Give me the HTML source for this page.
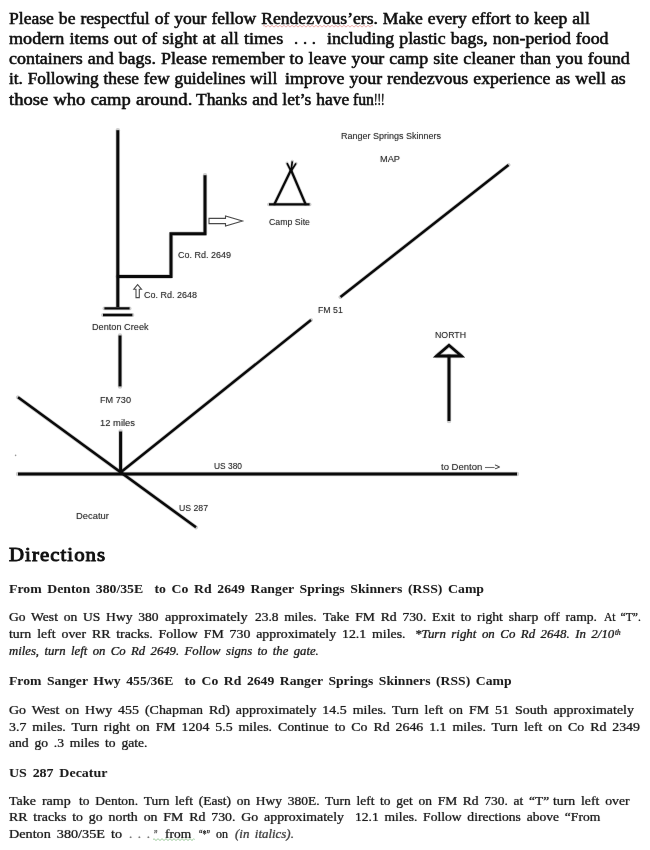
<!DOCTYPE html>
<html lang="en"><head><meta charset="utf-8"><title>Ranger Springs Skinners - Directions</title>
<style>
html,body{margin:0;padding:0;background:#fff;}
body{width:650px;height:850px;position:relative;overflow:hidden;}
#pg{position:absolute;left:0;top:0;width:650px;height:850px;overflow:hidden;filter:blur(0.4px);}
.t{position:absolute;white-space:pre;margin:0;padding:0;line-height:24px;height:24px;transform-origin:0 0;}
.p{display:inline-block;width:0;height:0;}
svg{position:absolute;left:0;top:0;}
</style></head><body><div id="pg">
<svg width="650" height="850" viewBox="0 0 650 850">
<g fill="none" stroke="#000" stroke-opacity="0.2" stroke-linecap="round" stroke-linejoin="round">
<path d="M117.8 130.2V307" stroke-width="4.5"/>
<path d="M117.8 276.6H171V233.7H205V175.3" stroke-width="4.5"/>
<path d="M104.4 308.4H129.6M103 315H132.4" stroke-width="3.9"/>
<path d="M120 335.5V386.4" stroke-width="4.5"/>
<path d="M120.6 431.5V473" stroke-width="4.5"/>
<path d="M18 397.3L196 527.3" stroke-width="4.1"/>
<path d="M120.5 472.5L311 320" stroke-width="4"/>
<path d="M340.5 297L508.5 165" stroke-width="4"/>
<path d="M18 474H517" stroke-width="4.4"/>
<path d="M449 356V421" stroke-width="4.5"/>
<path d="M449 345.3L436.5 356H461.5Z" stroke-width="4.3"/>
<path d="M274.5 204L291 170L305.5 204" stroke-width="3.7"/>
<path d="M269 204.4H309.6" stroke-width="3.7"/>
<path d="M291.2 171.5L287 163.2M291 171.5L292.3 161.3M290.8 171.5L296 163.4" stroke-width="3.2"/>
</g>
<g fill="none" stroke="#0a0a0a" stroke-linecap="butt" stroke-linejoin="miter">
<path d="M117.8 130.2V307" stroke-width="3"/>
<path d="M117.8 276.6H171V233.7H205V175.3" stroke-width="3"/>
<path d="M104.4 308.4H129.6M103 315H132.4" stroke-width="2.4"/>
<path d="M120 335.5V386.4" stroke-width="3"/>
<path d="M120.6 431.5V473" stroke-width="3"/>
<path d="M18 397.3L196 527.3" stroke-width="2.6"/>
<path d="M120.5 472.5L311 320" stroke-width="2.5"/>
<path d="M340.5 297L508.5 165" stroke-width="2.5"/>
<path d="M18 474H517" stroke-width="2.9"/>
<path d="M449 356V421" stroke-width="3"/>
<path d="M449 345.3L436.5 356H461.5Z" stroke-width="2.8"/>
<path d="M274.5 204L291 170L305.5 204" stroke-width="2.2"/>
<path d="M269 204.4H309.6" stroke-width="2.2"/>
<path d="M291.2 171.5L287 163.2M291 171.5L292.3 161.3M290.8 171.5L296 163.4" stroke-width="1.7"/>
</g>
<g fill="#fff" stroke="#4a4a4a" stroke-width="1.1">
<path d="M209 218.4H225.5V216L242.5 221L225.5 226V223.6H209Z"/>
<path d="M137.6 284.6L133.8 289.2H136V297.6H139.3V289.2H141.5Z"/>
</g>
<circle cx="15.6" cy="455.4" r="0.8" fill="#999"/>
<path d="M263 26.2Q264 24.4 265 26.2Q266 28 267 26.2Q268 24.4 269 26.2Q270 28 271 26.2Q272 24.4 273 26.2Q274 28 275 26.2Q276 24.4 277 26.2Q278 28 279 26.2Q280 24.4 281 26.2Q282 28 283 26.2Q284 24.4 285 26.2Q286 28 287 26.2Q288 24.4 289 26.2Q290 28 291 26.2Q292 24.4 293 26.2Q294 28 295 26.2Q296 24.4 297 26.2Q298 28 299 26.2Q300 24.4 301 26.2Q302 28 303 26.2Q304 24.4 305 26.2Q306 28 307 26.2Q308 24.4 309 26.2Q310 28 311 26.2Q312 24.4 313 26.2Q314 28 315 26.2Q316 24.4 317 26.2Q318 28 319 26.2Q320 24.4 321 26.2Q322 28 323 26.2Q324 24.4 325 26.2Q326 28 327 26.2Q328 24.4 329 26.2Q330 28 331 26.2Q332 24.4 333 26.2Q334 28 335 26.2Q336 24.4 337 26.2Q338 28 339 26.2Q340 24.4 341 26.2Q342 28 343 26.2Q344 24.4 345 26.2Q346 28 347 26.2Q348 24.4 349 26.2Q350 28 351 26.2Q352 24.4 353 26.2Q354 28 355 26.2Q356 24.4 357 26.2Q358 28 359 26.2Q360 24.4 361 26.2Q362 28 363 26.2Q364 24.4 365 26.2Q366 28 367 26.2Q368 24.4 369 26.2Q370 28 371 26.2Q372 24.4 373 26.2" fill="none" stroke="#d9534f" stroke-width="0.6" opacity="0.8"/>
<path d="M153 839.6Q154 837.8 155 839.6Q156 841.4 157 839.6Q158 837.8 159 839.6Q160 841.4 161 839.6Q162 837.8 163 839.6Q164 841.4 165 839.6Q166 837.8 167 839.6Q168 841.4 169 839.6Q170 837.8 171 839.6Q172 841.4 173 839.6Q174 837.8 175 839.6Q176 841.4 177 839.6Q178 837.8 179 839.6Q180 841.4 181 839.6Q182 837.8 183 839.6Q184 841.4 185 839.6Q186 837.8 187 839.6Q188 841.4 189 839.6Q190 837.8 191 839.6Q192 841.4 193 839.6Q193.75 837.8 194.5 839.6" fill="none" stroke="#3f9b3f" stroke-width="0.6" opacity="0.85"/>
</svg>
<div class="t" id="t0" style='left:8.8px;top:7.00px;font:16.2px "Liberation Serif", serif;color:#111;line-height:24px;transform:scaleX(1.0861);word-spacing:0.5px;-webkit-text-stroke:0.4px #111;text-shadow:0 0 1px rgba(0,0,0,.6);'>Please be respectful of your fellow Rendezvous’ers. Make every effort to keep all</div>
<div class="t" id="t1" style='left:8.8px;top:27.00px;font:16.2px "Liberation Serif", serif;color:#111;line-height:24px;transform:scaleX(1.1195);word-spacing:0.5px;-webkit-text-stroke:0.4px #111;text-shadow:0 0 1px rgba(0,0,0,.6);'>modern items out of sight at all times</div>
<div class="t" id="t2" style='left:294px;top:27.00px;font:16.2px "Liberation Serif", serif;color:#111;line-height:24px;transform:scaleX(1.0361);word-spacing:0.5px;-webkit-text-stroke:0.4px #111;text-shadow:0 0 1px rgba(0,0,0,.6);'>. . .</div>
<div class="t" id="t3" style='left:326.5px;top:27.00px;font:16.2px "Liberation Serif", serif;color:#111;line-height:24px;transform:scaleX(1.0995);word-spacing:0.5px;-webkit-text-stroke:0.4px #111;text-shadow:0 0 1px rgba(0,0,0,.6);'>including plastic bags, non-period food</div>
<div class="t" id="t4" style='left:8.8px;top:47.30px;font:16.2px "Liberation Serif", serif;color:#111;line-height:24px;transform:scaleX(1.1078);word-spacing:0.5px;-webkit-text-stroke:0.4px #111;text-shadow:0 0 1px rgba(0,0,0,.6);'>containers and bags. Please remember to leave your camp site cleaner than you found</div>
<div class="t" id="t5" style='left:8.8px;top:67.00px;font:16.2px "Liberation Serif", serif;color:#111;line-height:24px;transform:scaleX(1.0660);word-spacing:0.5px;-webkit-text-stroke:0.4px #111;text-shadow:0 0 1px rgba(0,0,0,.6);'>it. Following these few guidelines will</div>
<div class="t" id="t6" style='left:285px;top:67.00px;font:16.2px "Liberation Serif", serif;color:#111;line-height:24px;transform:scaleX(1.1010);word-spacing:0.5px;-webkit-text-stroke:0.4px #111;text-shadow:0 0 1px rgba(0,0,0,.6);'>improve your rendezvous experience as well as</div>
<div class="t" id="t7" style='left:8.8px;top:88.00px;font:16.2px "Liberation Serif", serif;color:#111;line-height:24px;transform:scaleX(1.1474);word-spacing:0.5px;-webkit-text-stroke:0.4px #111;text-shadow:0 0 1px rgba(0,0,0,.6);'>those who camp around.</div>
<div class="t" id="t8" style='left:195.8px;top:88.00px;font:16.2px "Liberation Serif", serif;color:#111;line-height:24px;transform:scaleX(1.0773);word-spacing:0.5px;-webkit-text-stroke:0.4px #111;text-shadow:0 0 1px rgba(0,0,0,.6);'>Thanks and let’s have</div>
<div class="t" id="t9" style='left:352.6px;top:88.00px;font:16.2px "Liberation Serif", serif;color:#111;line-height:24px;transform:scaleX(0.9732);word-spacing:0.5px;-webkit-text-stroke:0.4px #111;text-shadow:0 0 1px rgba(0,0,0,.6);'>fun</div>
<div class="t" id="t10" style='left:374.2px;top:88.00px;font:16.2px "Liberation Serif", serif;color:#111;line-height:24px;transform:scaleX(0.6431);word-spacing:0.5px;-webkit-text-stroke:0.4px #111;text-shadow:0 0 1px rgba(0,0,0,.6);'>!!!</div>
<div class="t" id="t11" style='left:9px;top:543.00px;font:18px "Liberation Serif", serif;color:#111;line-height:24px;letter-spacing:0.900px;transform:scaleX(1.1579);-webkit-text-stroke:0.85px #111;text-shadow:0 0 1px rgba(0,0,0,.5);'>Directions</div>
<div class="t" id="t12" style='left:9px;top:577.00px;font:bold 12.4px "Liberation Serif", serif;color:#1e1e1e;line-height:24px;transform:scaleX(1.1107);word-spacing:2px;text-shadow:0 0 1px rgba(0,0,0,.15);'>From Denton 380/35E  to Co Rd 2649 Ranger Springs Skinners (RSS) Camp</div>
<div class="t" id="t13" style='left:9px;top:605.20px;font:12.6px "Liberation Serif", serif;color:#1e1e1e;line-height:24px;transform:scaleX(1.0775);word-spacing:2.2px;-webkit-text-stroke:0.2px #1e1e1e;text-shadow:0 0 1px rgba(0,0,0,.4);'>Go West on US Hwy 380</div>
<div class="t" id="t14" style='left:164.8px;top:605.20px;font:12.6px "Liberation Serif", serif;color:#1e1e1e;line-height:24px;transform:scaleX(1.1368);word-spacing:2.2px;-webkit-text-stroke:0.2px #1e1e1e;text-shadow:0 0 1px rgba(0,0,0,.4);'>approximately</div>
<div class="t" id="t15" style='left:254.8px;top:605.20px;font:12.6px "Liberation Serif", serif;color:#1e1e1e;line-height:24px;transform:scaleX(1.0652);word-spacing:2.2px;-webkit-text-stroke:0.2px #1e1e1e;text-shadow:0 0 1px rgba(0,0,0,.4);'>23.8 miles.</div>
<div class="t" id="t16" style='left:322.5px;top:605.20px;font:12.6px "Liberation Serif", serif;color:#1e1e1e;line-height:24px;transform:scaleX(1.0843);word-spacing:2.2px;-webkit-text-stroke:0.2px #1e1e1e;text-shadow:0 0 1px rgba(0,0,0,.4);'>Take FM Rd 730. Exit to right sharp off ramp.</div>
<div class="t" id="t17" style='left:603.8px;top:605.20px;font:12.6px "Liberation Serif", serif;color:#1e1e1e;line-height:24px;transform:scaleX(0.9207);word-spacing:2.2px;-webkit-text-stroke:0.2px #1e1e1e;text-shadow:0 0 1px rgba(0,0,0,.4);'>At “T”.</div>
<div class="t" id="t18" style='left:9px;top:622.00px;font:12.6px "Liberation Serif", serif;color:#1e1e1e;line-height:24px;transform:scaleX(1.0985);word-spacing:2.2px;-webkit-text-stroke:0.2px #1e1e1e;text-shadow:0 0 1px rgba(0,0,0,.4);'>turn left over RR tracks. Follow FM 730 approximately 12.1 miles.</div>
<div class="t" id="t19" style='left:415px;top:622.00px;font:italic 12.6px "Liberation Serif", serif;color:#1e1e1e;line-height:24px;transform:scaleX(1.0245);word-spacing:2.2px;-webkit-text-stroke:0.2px #1e1e1e;text-shadow:0 0 1px rgba(0,0,0,.4);'>*Turn right on Co Rd 2648. In 2/10</div>
<div class="t" id="t20" style='left:615px;top:620.60px;font:italic 7.6px "Liberation Serif", serif;color:#1e1e1e;line-height:24px;transform:scaleX(0.9456);-webkit-text-stroke:0.2px #1e1e1e;text-shadow:0 0 1px rgba(0,0,0,.4);'>th</div>
<div class="t" id="t21" style='left:9px;top:639.00px;font:italic 12.6px "Liberation Serif", serif;color:#1e1e1e;line-height:24px;transform:scaleX(1.0096);word-spacing:2.2px;-webkit-text-stroke:0.2px #1e1e1e;text-shadow:0 0 1px rgba(0,0,0,.4);'>miles, turn left on Co Rd 2649. Follow signs to the gate.</div>
<div class="t" id="t22" style='left:9px;top:669.00px;font:bold 12.4px "Liberation Serif", serif;color:#1e1e1e;line-height:24px;transform:scaleX(1.1021);word-spacing:2px;text-shadow:0 0 1px rgba(0,0,0,.15);'>From Sanger Hwy 455/36E  to Co Rd 2649 Ranger Springs Skinners (RSS) Camp</div>
<div class="t" id="t23" style='left:9px;top:698.00px;font:12.6px "Liberation Serif", serif;color:#1e1e1e;line-height:24px;transform:scaleX(1.1076);word-spacing:2.2px;-webkit-text-stroke:0.2px #1e1e1e;text-shadow:0 0 1px rgba(0,0,0,.4);'>Go West on Hwy 455 (Chapman Rd) approximately 14.5 miles. Turn left on FM 51 South approximately</div>
<div class="t" id="t24" style='left:9px;top:714.50px;font:12.6px "Liberation Serif", serif;color:#1e1e1e;line-height:24px;transform:scaleX(1.1017);word-spacing:2.2px;-webkit-text-stroke:0.2px #1e1e1e;text-shadow:0 0 1px rgba(0,0,0,.4);'>3.7 miles. Turn right on FM 1204 5.5 miles. Continue to Co Rd 2646 1.1 miles. Turn left on Co Rd 2349</div>
<div class="t" id="t25" style='left:9px;top:731.00px;font:12.6px "Liberation Serif", serif;color:#1e1e1e;line-height:24px;transform:scaleX(1.0806);word-spacing:2.2px;-webkit-text-stroke:0.2px #1e1e1e;text-shadow:0 0 1px rgba(0,0,0,.4);'>and go .3 miles to gate.</div>
<div class="t" id="t26" style='left:9px;top:760.50px;font:bold 12.4px "Liberation Serif", serif;color:#1e1e1e;line-height:24px;transform:scaleX(1.1285);word-spacing:2px;text-shadow:0 0 1px rgba(0,0,0,.15);'>US 287 Decatur</div>
<div class="t" id="t27" style='left:9px;top:788.50px;font:12.6px "Liberation Serif", serif;color:#1e1e1e;line-height:24px;transform:scaleX(1.1114);word-spacing:2.2px;-webkit-text-stroke:0.2px #1e1e1e;text-shadow:0 0 1px rgba(0,0,0,.4);'>Take ramp</div>
<div class="t" id="t28" style='left:79px;top:788.50px;font:12.6px "Liberation Serif", serif;color:#1e1e1e;line-height:24px;transform:scaleX(1.0694);word-spacing:2.2px;-webkit-text-stroke:0.2px #1e1e1e;text-shadow:0 0 1px rgba(0,0,0,.4);'>to Denton. Turn left (East) on Hwy 380E. Turn left to get on FM Rd 730. at “T”</div>
<div class="t" id="t29" style='left:552.7px;top:788.50px;font:12.6px "Liberation Serif", serif;color:#1e1e1e;line-height:24px;transform:scaleX(1.0933);word-spacing:2.2px;-webkit-text-stroke:0.2px #1e1e1e;text-shadow:0 0 1px rgba(0,0,0,.4);'>turn left over</div>
<div class="t" id="t30" style='left:9px;top:805.00px;font:12.6px "Liberation Serif", serif;color:#1e1e1e;line-height:24px;transform:scaleX(1.0984);word-spacing:2.2px;-webkit-text-stroke:0.2px #1e1e1e;text-shadow:0 0 1px rgba(0,0,0,.4);'>RR tracks to go north on FM Rd 730. Go approximately</div>
<div class="t" id="t31" style='left:355px;top:805.00px;font:12.6px "Liberation Serif", serif;color:#1e1e1e;line-height:24px;transform:scaleX(1.0781);word-spacing:2.2px;-webkit-text-stroke:0.2px #1e1e1e;text-shadow:0 0 1px rgba(0,0,0,.4);'>12.1 miles. Follow directions above “From</div>
<div class="t" id="t32" style='left:9px;top:821.50px;font:12.6px "Liberation Serif", serif;color:#1e1e1e;line-height:24px;transform:scaleX(1.1272);word-spacing:2.2px;-webkit-text-stroke:0.2px #1e1e1e;text-shadow:0 0 1px rgba(0,0,0,.4);'>Denton 380/35E to</div>
<div class="t" id="t33" style='left:129px;top:821.50px;font:12.6px "Liberation Serif", serif;color:#777;line-height:24px;transform:scaleX(1.0419);word-spacing:2.2px;-webkit-text-stroke:0.2px #777;text-shadow:0 0 1px rgba(0,0,0,.4);'>. . .</div>
<div class="t" id="t34" style='left:154px;top:821.50px;font:12.6px "Liberation Serif", serif;color:#555;line-height:24px;transform:scaleX(0.6257);word-spacing:2.2px;-webkit-text-stroke:0.2px #555;text-shadow:0 0 1px rgba(0,0,0,.4);'>”</div>
<div class="t" id="t35" style='left:165.4px;top:821.50px;font:12.6px "Liberation Serif", serif;color:#1e1e1e;line-height:24px;transform:scaleX(1.0660);word-spacing:2.2px;-webkit-text-stroke:0.2px #1e1e1e;text-shadow:0 0 1px rgba(0,0,0,.4);'>from</div>
<div class="t" id="t36" style='left:199px;top:821.50px;font:12.6px "Liberation Serif", serif;color:#1e1e1e;line-height:24px;transform:scaleX(0.6291);word-spacing:2.2px;-webkit-text-stroke:0.2px #1e1e1e;text-shadow:0 0 1px rgba(0,0,0,.4);'>“*”</div>
<div class="t" id="t37" style='left:215.5px;top:821.50px;font:12.6px "Liberation Serif", serif;color:#1e1e1e;line-height:24px;transform:scaleX(0.9529);word-spacing:2.2px;-webkit-text-stroke:0.2px #1e1e1e;text-shadow:0 0 1px rgba(0,0,0,.4);'>on</div>
<div class="t" id="t38" style='left:234.6px;top:821.50px;font:italic 12.6px "Liberation Serif", serif;color:#444;line-height:24px;transform:scaleX(1.0249);word-spacing:2.2px;-webkit-text-stroke:0.2px #444;text-shadow:0 0 1px rgba(0,0,0,.4);'>(in italics).</div>
<div class="t" id="t39" style='left:341px;top:123.90px;font:8.4px "Liberation Sans", sans-serif;color:#333;line-height:24px;transform:scaleX(1.0740);text-shadow:0 0 1px rgba(0,0,0,.4);'>Ranger Springs Skinners</div>
<div class="t" id="t40" style='left:380px;top:146.90px;font:8.4px "Liberation Sans", sans-serif;color:#333;line-height:24px;transform:scaleX(1.1015);text-shadow:0 0 1px rgba(0,0,0,.4);'>MAP</div>
<div class="t" id="t41" style='left:269px;top:209.50px;font:8.4px "Liberation Sans", sans-serif;color:#333;line-height:24px;transform:scaleX(1.0483);text-shadow:0 0 1px rgba(0,0,0,.4);'>Camp Site</div>
<div class="t" id="t42" style='left:178px;top:242.50px;font:8.4px "Liberation Sans", sans-serif;color:#333;line-height:24px;transform:scaleX(1.0738);text-shadow:0 0 1px rgba(0,0,0,.4);'>Co. Rd. 2649</div>
<div class="t" id="t43" style='left:144px;top:283.00px;font:8.4px "Liberation Sans", sans-serif;color:#333;line-height:24px;transform:scaleX(1.0738);text-shadow:0 0 1px rgba(0,0,0,.4);'>Co. Rd. 2648</div>
<div class="t" id="t44" style='left:92.4px;top:315.40px;font:8.4px "Liberation Sans", sans-serif;color:#333;line-height:24px;transform:scaleX(1.0950);text-shadow:0 0 1px rgba(0,0,0,.4);'>Denton Creek</div>
<div class="t" id="t45" style='left:317.6px;top:298.40px;font:8.4px "Liberation Sans", sans-serif;color:#333;line-height:24px;transform:scaleX(1.0442);text-shadow:0 0 1px rgba(0,0,0,.4);'>FM 51</div>
<div class="t" id="t46" style='left:435px;top:322.50px;font:8.4px "Liberation Sans", sans-serif;color:#333;line-height:24px;transform:scaleX(1.0464);text-shadow:0 0 1px rgba(0,0,0,.4);'>NORTH</div>
<div class="t" id="t47" style='left:100px;top:388.00px;font:8.4px "Liberation Sans", sans-serif;color:#333;line-height:24px;transform:scaleX(1.0913);text-shadow:0 0 1px rgba(0,0,0,.4);'>FM 730</div>
<div class="t" id="t48" style='left:100px;top:411.00px;font:8.4px "Liberation Sans", sans-serif;color:#333;line-height:24px;transform:scaleX(1.1222);text-shadow:0 0 1px rgba(0,0,0,.4);'>12 miles</div>
<div class="t" id="t49" style='left:214px;top:454.00px;font:8.4px "Liberation Sans", sans-serif;color:#333;line-height:24px;transform:scaleX(1.0022);text-shadow:0 0 1px rgba(0,0,0,.4);'>US 380</div>
<div class="t" id="t50" style='left:441px;top:454.70px;font:8.4px "Liberation Sans", sans-serif;color:#333;line-height:24px;transform:scaleX(1.1363);text-shadow:0 0 1px rgba(0,0,0,.4);'>to Denton —&gt;</div>
<div class="t" id="t51" style='left:179px;top:496.00px;font:8.4px "Liberation Sans", sans-serif;color:#333;line-height:24px;transform:scaleX(1.0380);text-shadow:0 0 1px rgba(0,0,0,.4);'>US 287</div>
<div class="t" id="t52" style='left:76px;top:504.00px;font:8.4px "Liberation Sans", sans-serif;color:#333;line-height:24px;transform:scaleX(1.1252);text-shadow:0 0 1px rgba(0,0,0,.4);'>Decatur</div>
</div></body></html>
